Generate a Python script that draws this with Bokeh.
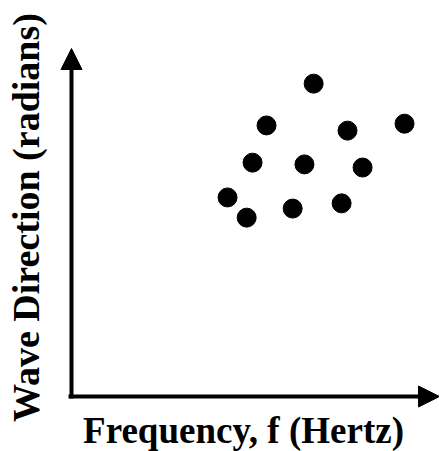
from bokeh.plotting import figure
from bokeh.models import Arrow, NormalHead, Label
from bokeh.embed import file_html
from bokeh.resources import INLINE
import math

# Data (arbitrary units)
freq = [6.58, 5.30, 7.50, 9.05, 4.92, 6.33, 7.91, 4.24, 4.76, 6.01, 7.34]
direction = [8.99, 7.79, 7.64, 7.84, 6.72, 6.67, 6.58, 5.72, 5.14, 5.40, 5.55]
x_label = "Frequency, f (Hertz)"
y_label = "Wave Direction (radians)"

X_MAX = 10
Y_MAX = 10

W, H = 439, 451
ORIG_X, ORIG_Y = 71, 396      # pixel position of the axes' corner
PX_X = (W - ORIG_X) / X_MAX   # pixels per x unit
PX_Y = (ORIG_Y - 48) / Y_MAX  # pixels per y unit


def dx(px):
    return px / PX_X


def dy(px):
    return px / PX_Y


p = figure(width=W, height=H,
           x_range=(-dx(ORIG_X), X_MAX), y_range=(-dy(H - ORIG_Y), Y_MAX + dy(48)),
           output_backend="svg", toolbar_location=None,
           min_border=0)
p.outline_line_color = None
p.grid.visible = False
p.axis.visible = False
p.background_fill_color = "white"
p.border_fill_color = "white"

head = 21
# axis shafts
p.add_layout(Arrow(x_start=0, y_start=-dy(2), x_end=0, y_end=Y_MAX - dy(head - 1),
                   line_width=4, line_color="black", end=None))
p.add_layout(Arrow(x_start=-dx(3), y_start=0, x_end=X_MAX - dx(head - 1), y_end=0,
                   line_width=4, line_color="black", end=None))
# arrow heads
p.add_layout(Arrow(x_start=0, y_start=0, x_end=0, y_end=Y_MAX, line_alpha=0,
                   end=NormalHead(size=head, fill_color="black", line_color="black")))
p.add_layout(Arrow(x_start=0, y_start=0, x_end=X_MAX, y_end=0, line_alpha=0,
                   end=NormalHead(size=head, fill_color="black", line_color="black")))

p.scatter(freq, direction, size=19, fill_color="black", line_color="black")

font = "Liberation Serif"
p.add_layout(Label(x=dx(243 - ORIG_X), y=-dy(430 - ORIG_Y), text=x_label,
                   text_font=font, text_font_style="bold", text_font_size="37px",
                   text_align="center", text_baseline="middle", text_color="black"))
p.add_layout(Label(x=-dx(ORIG_X - 25), y=dy(ORIG_Y - 217), text=y_label,
                   angle=math.pi / 2,
                   text_font=font, text_font_style="bold", text_font_size="38px",
                   text_align="center", text_baseline="middle", text_color="black"))

open("out.html", "w").write(file_html(p, INLINE))
